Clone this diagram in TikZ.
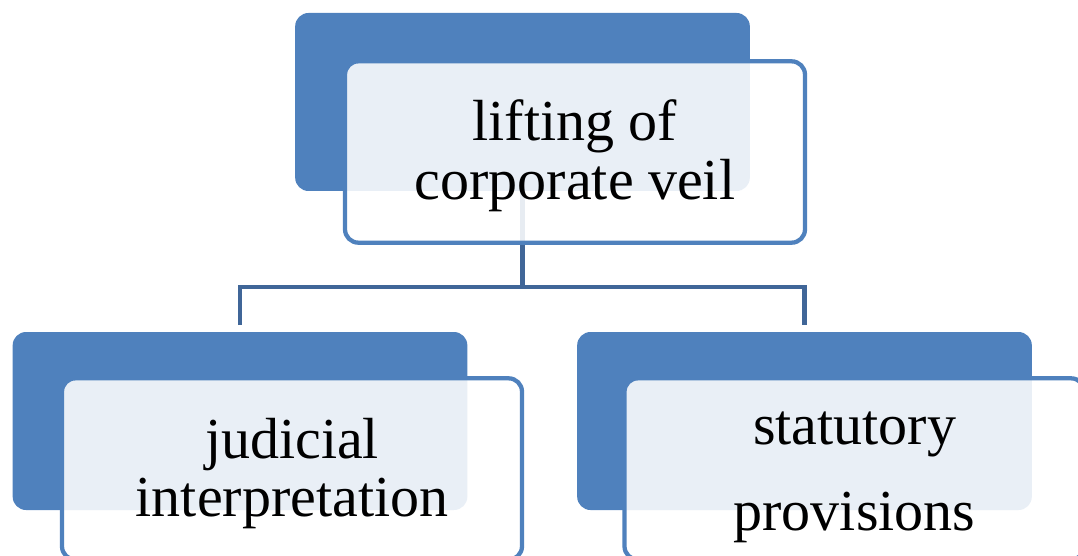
\documentclass[tikz,border=0pt]{standalone}
\usepackage{fontspec}
\setmainfont{Liberation Serif}
\usetikzlibrary{calc}
\definecolor{accent}{RGB}{79,129,189}
\definecolor{linkclr}{RGB}{64,102,152}
\newcommand{\lowstrut}[1]{\rule{0pt}{#1}}
\tikzset{
  backbox/.style={
    fill=accent, rounded corners=10pt,
    minimum width=341pt, minimum height=133.5pt, inner sep=0pt,
  },
  frontbox/.style={
    draw=accent, line width=3.2pt, fill=white, fill opacity=0.88, text opacity=1,
    rounded corners=10pt, minimum width=345pt, minimum height=136pt,
    align=center, font=\fontsize{43.5}{44}\selectfont, inner sep=0pt,
  },
  link/.style={draw=linkclr, line width=3.2pt},
}
\begin{document}
\begin{tikzpicture}[x=0.75pt,y=-0.75pt]
  \useasboundingbox (0,0) rectangle (1078,556);

  \node[backbox] (veilback) at (522.5,102) {};
  \node[backbox] (judback) at (240,421) {};
  \node[backbox] (statback) at (804.5,421) {};

  \coordinate (split) at (522.5,287);
  \draw[link] (veilback.south) -- (split);
  \draw[link, shorten <=5pt, shorten >=5pt] (judback.north) |- (split) -| (statback.north);

  \node[frontbox] (veil) at (575,152) {\lowstrut{36pt}lifting of\\corporate veil};
  \node[frontbox] (jud) at (292,469) {\lowstrut{37pt}judicial\\interpretation};
  \node[frontbox] (stat) at (854.5,469) {\lowstrut{37pt}statutory\\[21pt]provisions};
\end{tikzpicture}
\end{document}
